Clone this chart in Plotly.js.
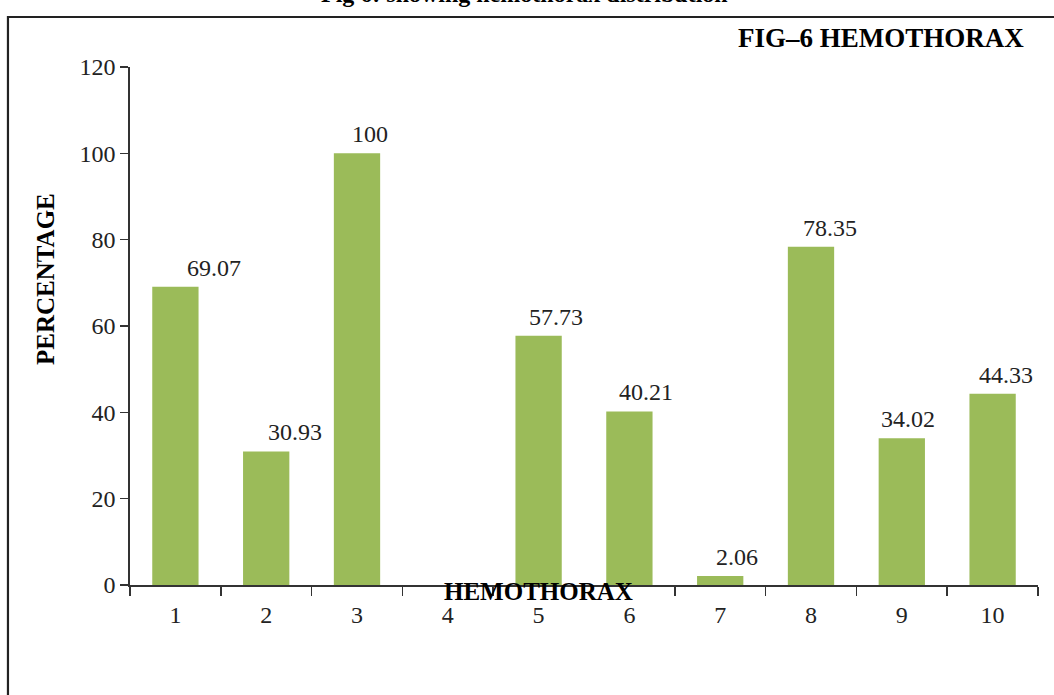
<!DOCTYPE html>
<html>
<head>
<meta charset="utf-8">
<script src="https://cdn.plot.ly/plotly-3.0.1.min.js"></script>
<style>
  html, body { margin: 0; padding: 0; background: #ffffff; }
  #chart { width: 1054px; height: 695px; }
</style>
</head>
<body>
<div id="chart"></div>
<script>
// Hemothorax distribution by case group
const categories = ["1", "2", "3", "4", "5", "6", "7", "8", "9", "10"];
const percentages = [69.07, 30.93, 100, 0, 57.73, 40.21, 2.06, 78.35, 34.02, 44.33];
const yTicks = [0, 20, 40, 60, 80, 100, 120];

const captionText = "Fig 6: showing hemothorax distribution";
const chartTitle = "FIG\u20136 HEMOTHORAX";
const xTitle = "HEMOTHORAX";
const yTitle = "PERCENTAGE";

// horizontal nudge (px) of each value label relative to its bar centre
const labelNudge = [39, 29, 13, 0, 17, 17, 17, 19, 6, 13];

const serif = "Liberation Serif, Times New Roman, serif";
const ink = "#222222";

// value labels sit above each bar; category positions are addressed by index
const valueLabels = [];
categories.forEach((c, i) => {
  if (percentages[i] === 0) return;
  valueLabels.push({
    x: i, y: percentages[i], xref: "x", yref: "y",
    text: String(percentages[i]),
    showarrow: false, xanchor: "center", yanchor: "middle",
    xshift: labelNudge[i], yshift: 19,
    font: { family: serif, size: 24, color: ink }
  });
});

const trace = {
  type: "bar",
  x: categories,
  y: percentages,
  marker: { color: "#9BBB59", line: { width: 0 } },
  hoverinfo: "x+y"
};

const layout = {
  width: 1054,
  height: 695,
  margin: { l: 130, r: 16, t: 67, b: 110 },
  paper_bgcolor: "#ffffff",
  plot_bgcolor: "#ffffff",
  showlegend: false,
  bargap: 0.49,
  font: { family: serif, size: 24, color: ink },
  xaxis: {
    type: "category",
    range: [-0.5, 9.5],
    showline: true, linecolor: "#333333", linewidth: 1.6,
    ticks: "outside", tickson: "boundaries", ticklen: 9, tickwidth: 1.6, tickcolor: "#333333",
    ticklabelstandoff: 8,
    showgrid: false, zeroline: false,
    tickfont: { family: serif, size: 24, color: ink }
  },
  yaxis: {
    range: [0, 120],
    tickvals: yTicks,
    showline: true, linecolor: "#333333", linewidth: 1.6,
    ticks: "outside", ticklen: 8, tickwidth: 1.6, tickcolor: "#333333",
    showgrid: false, zeroline: false,
    tickfont: { family: serif, size: 24, color: ink }
  },
  shapes: [
    {
      type: "path", xref: "paper", yref: "paper",
      path: "M -0.1344,-0.25 L -0.1344,1.0965 L 1.03,1.0965",
      line: { color: "#222222", width: 2.2 }
    }
  ],
  annotations: valueLabels.concat([
    {
      text: captionText, xref: "paper", yref: "paper", x: 0.435, y: 1.141,
      xanchor: "center", yanchor: "middle", showarrow: false,
      font: { family: serif, size: 24, color: "#000000", weight: "bold" }
    },
    {
      text: chartTitle, xref: "paper", yref: "paper", x: 0.9868, y: 1.056,
      xanchor: "right", yanchor: "middle", showarrow: false,
      font: { family: serif, size: 27, color: "#000000", weight: "bold" }
    },
    {
      text: yTitle, xref: "paper", yref: "paper", x: -0.0936, y: 0.5907,
      xanchor: "center", yanchor: "middle", textangle: -90, showarrow: false,
      font: { family: serif, size: 25, color: "#000000", weight: "bold" }
    },
    {
      text: xTitle, xref: "paper", yref: "paper", x: 0.4504, y: -0.0116,
      xanchor: "center", yanchor: "middle", showarrow: false,
      font: { family: serif, size: 25, color: "#000000", weight: "bold" }
    }
  ])
};

Plotly.newPlot("chart", [trace], layout, { displayModeBar: false, staticPlot: true });
</script>
</body>
</html>
